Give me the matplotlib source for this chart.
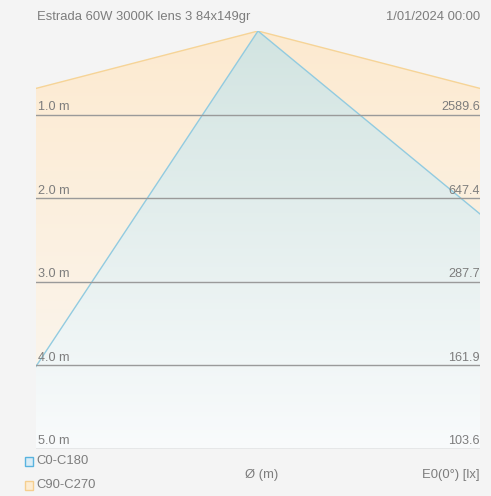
import numpy as np
import matplotlib
matplotlib.use("Agg")
import matplotlib.pyplot as plt
from matplotlib.patches import Polygon, Rectangle

plt.rcParams['font.family'] = ['Liberation Sans', 'DejaVu Sans']

# ---- data ----
title = "Estrada 60W 3000K lens 3 84x149gr"
date_text = "1/01/2024 00:00"
heights = [1.0, 2.0, 3.0, 4.0, 5.0]
height_labels = ["1.0 m", "2.0 m", "3.0 m", "4.0 m", "5.0 m"]
illuminance = [2589.6, 647.4, 287.7, 161.9, 103.6]
c0_half_angles = [-33.5, 50.5]     # C0-C180 beam edges (deg)
c90_half_angles = [-75.5, 75.5]    # C90-C270 beam edges (deg)
x_half_range = 2.655               # m
legend_labels = ["C0-C180", "C90-C270"]

W, H = 491, 496
fig = plt.figure(figsize=(W / 100, H / 100), dpi=100)
bg = "#f4f4f4"
fig.patch.set_facecolor(bg)
tcol = "#7d7d7d"
fs = 9.4

left, right, top, bottom = 36, 480, 31, 449
ax = fig.add_axes([left / W, 1 - bottom / H, (right - left) / W, (bottom - top) / H])
ax.set_facecolor(bg)
ax.set_xlim(-x_half_range, x_half_range)
ax.set_ylim(heights[-1], 0)
for s in ax.spines.values():
    s.set_visible(False)
ax.set_xticks([])
ax.set_yticks([])

def hex2rgb(h):
    h = h.lstrip('#')
    return np.array([int(h[i:i + 2], 16) / 255 for i in (0, 2, 4)])

def beam(angles, c_top, c_bot, edge, z):
    D = 20.0
    xl = D * np.tan(np.radians(angles[0]))
    xr = D * np.tan(np.radians(angles[1]))
    verts = [(xl, D), (0, 0), (xr, D)]
    poly = Polygon(verts, closed=True, facecolor='none', edgecolor='none',
                   transform=ax.transData)
    ax.add_patch(poly)
    n = 256
    t = np.linspace(0, 1, n)[:, None]
    ct, cb = hex2rgb(c_top), hex2rgb(c_bot)
    img = ct[None, None, :] * (1 - t[:, :, None]) + cb[None, None, :] * t[:, :, None]
    img = np.repeat(img, 2, axis=1)
    im = ax.imshow(img, extent=[-x_half_range, x_half_range, heights[-1], 0],
                   aspect='auto', interpolation='bilinear', zorder=z)
    im.set_clip_path(poly)
    ax.plot([xl, 0, xr], [D, 0, D], color=edge, lw=1.0, zorder=z + 0.5)

beam(c90_half_angles, "#fdead0", "#faf7f2", "#f6d497", 1)
beam(c0_half_angles, "#d2e4e1", "#f9fbfc", "#92cbe0", 2)

# horizontal reference lines + labels
for h, hl, e in zip(heights, height_labels, illuminance):
    ax.axhline(h, color="#9a9a9a", lw=1.0, zorder=3)
    ax.text(-x_half_range + 0.02, h - 0.02, hl, ha='left', va='bottom',
            fontsize=fs - 0.3, color=tcol, zorder=4)
    ax.text(x_half_range, h - 0.02, f"{e:.1f}", ha='right', va='bottom',
            fontsize=fs - 0.3, color=tcol, zorder=4)

fig.text(37 / W, 1 - 17 / H, title, ha='left', va='center', fontsize=fs, color=tcol)
fig.text(480 / W, 1 - 17 / H, date_text, ha='right', va='center', fontsize=fs, color=tcol)

# legend
leg_colors = [("#d9ecf6", "#58b3df"), ("#fdecd2", "#f5cf8f")]
leg_y = [461, 485]
for lab, (fc, ec), yy in zip(legend_labels, leg_colors, leg_y):
    fig.patches.append(Rectangle((24.5 / W, 1 - (yy + 4.5) / H), 8 / W, 9 / H,
                                 transform=fig.transFigure, facecolor=fc,
                                 edgecolor=ec, lw=1.0))
    fig.text(36 / W, 1 - yy / H, lab, ha='left', va='center', fontsize=fs, color=tcol)

fig.text(262 / W, 1 - 475 / H, "Ø (m)", ha='center', va='center', fontsize=fs, color=tcol)
fig.text(480 / W, 1 - 475 / H, "E0(0°) [lx]", ha='right', va='center', fontsize=fs, color=tcol)

fig.savefig("out.png", dpi=100, facecolor=fig.get_facecolor())
